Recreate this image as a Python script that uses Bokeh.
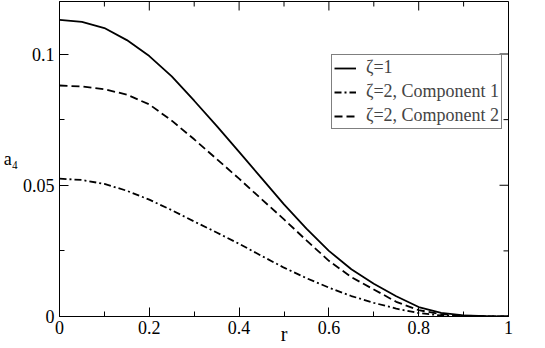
import numpy as np
from bokeh.plotting import figure
from bokeh.models import (FixedTicker, Range1d, Legend, LegendItem)
from bokeh.embed import file_html
from bokeh.resources import INLINE

# ---- data ----
r = [0.0, 0.05, 0.1, 0.15, 0.2, 0.25, 0.3, 0.35, 0.4, 0.45, 0.5,
     0.55, 0.6, 0.65, 0.7, 0.75, 0.8, 0.85, 0.9, 0.95, 1.0]
a4_zeta1 = [0.1130, 0.1122, 0.1099, 0.1053, 0.0992, 0.0915, 0.0822, 0.0726,
            0.0627, 0.0527, 0.0427, 0.0335, 0.0250, 0.0180, 0.0125, 0.0077,
            0.0036, 0.0014, 0.0004, 0.0001, 0.0]
a4_zeta2_comp1 = [0.0525, 0.0520, 0.0505, 0.0479, 0.0445, 0.0405, 0.0362,
                  0.0320, 0.0277, 0.0231, 0.0186, 0.0146, 0.0110, 0.0078,
                  0.0052, 0.0030, 0.0013, 0.0004, 0.0001, 0.0, 0.0]
a4_zeta2_comp2 = [0.0880, 0.0876, 0.0866, 0.0845, 0.0808, 0.0746, 0.0675,
                  0.0600, 0.0525, 0.0447, 0.0370, 0.0290, 0.0212, 0.0150,
                  0.0103, 0.0056, 0.0024, 0.0009, 0.0003, 0.0001, 0.0]

series_labels = ["ζ=1", "ζ=2, Component 1", "ζ=2, Component 2"]
x_title = "r"
y_title = "a₄"

x_min, x_max = 0.0, 1.0
y_min, y_max = 0.0, 0.12
x_ticks = [0.0, 0.2, 0.4, 0.6, 0.8, 1.0]
x_tick_labels = ["0", "0.2", "0.4", "0.6", "0.8", "1"]
x_minor_ticks = [0.1, 0.3, 0.5, 0.7, 0.9]
y_ticks = [0.0, 0.05, 0.1]
y_tick_labels = ["0", "0.05", "0.1"]
y_minor_ticks = [0.025, 0.075]

FONT = "Liberation Serif"

p = figure(width=545, height=348, x_range=Range1d(x_min, x_max),
           y_range=Range1d(y_min, y_max),
           output_backend="svg", toolbar_location=None,
           min_border_left=58, min_border_right=37, min_border_top=1,
           min_border_bottom=32)
p.grid.visible = False
p.outline_line_color = "black"
p.outline_line_width = 1
p.background_fill_color = "white"
p.border_fill_color = "white"


def style_axis(ax, ticks, minor, labels):
    ax.ticker = FixedTicker(ticks=ticks, minor_ticks=minor)
    ax.major_tick_in = 9
    ax.major_tick_out = 0
    ax.minor_tick_in = 5
    ax.minor_tick_out = 0
    ax.axis_line_color = "black"
    ax.major_tick_line_color = "black"
    ax.minor_tick_line_color = "black"
    ax.major_label_overrides = {t: l for t, l in zip(ticks, labels)}
    ax.major_label_text_font = FONT
    ax.major_label_text_font_size = "18px"
    ax.major_label_text_color = "black"
    ax.major_label_standoff = 5
    ax.axis_label_text_font = FONT
    ax.axis_label_text_font_style = "normal"
    ax.axis_label_text_color = "black"


xa = p.xaxis[0]
ya = p.yaxis[0]
style_axis(xa, x_ticks, x_minor_ticks, x_tick_labels)
style_axis(ya, y_ticks, y_minor_ticks, y_tick_labels)
xa.major_label_standoff = 4
xa.axis_label = x_title
xa.axis_label_text_font_size = "20px"
xa.axis_label_standoff = -14
ya.axis_label = y_title
ya.axis_label_text_font_size = "18px"
ya.axis_label_orientation = "horizontal"
ya.axis_label_standoff = 2

# mirrored inward ticks on the top and right edges of the frame
p.scatter(x_ticks, [y_max] * len(x_ticks), marker="dash", size=18, angle=np.pi / 2,
          line_color="black", line_width=1)
p.scatter(x_minor_ticks, [y_max] * len(x_minor_ticks), marker="dash", size=10,
          angle=np.pi / 2, line_color="black", line_width=1)
p.scatter([x_max] * len(y_ticks), y_ticks, marker="dash", size=18,
          line_color="black", line_width=1)
p.scatter([x_max] * len(y_minor_ticks), y_minor_ticks, marker="dash", size=10,
          line_color="black", line_width=1)

l1 = p.line(r, a4_zeta1, line_color="black", line_width=1.8)
l2 = p.line(r, a4_zeta2_comp1, line_color="black", line_width=1.8, line_dash="7 3 2 3")
l3 = p.line(r, a4_zeta2_comp2, line_color="black", line_width=1.8, line_dash="8 4")

legend = Legend(items=[LegendItem(label=series_labels[0], renderers=[l1]),
                       LegendItem(label=series_labels[1], renderers=[l2]),
                       LegendItem(label=series_labels[2], renderers=[l3])],
                location=(272, 187))
legend.border_line_color = "black"
legend.border_line_width = 1
legend.background_fill_color = "white"
legend.background_fill_alpha = 1
legend.label_text_font = FONT
legend.label_text_font_size = "18px"
legend.glyph_width = 22
legend.glyph_height = 20
legend.label_height = 20
legend.label_standoff = 10
legend.padding = 2
legend.spacing = 3
legend.margin = 0
p.add_layout(legend)

open("out.html", "w").write(file_html(p, INLINE))
